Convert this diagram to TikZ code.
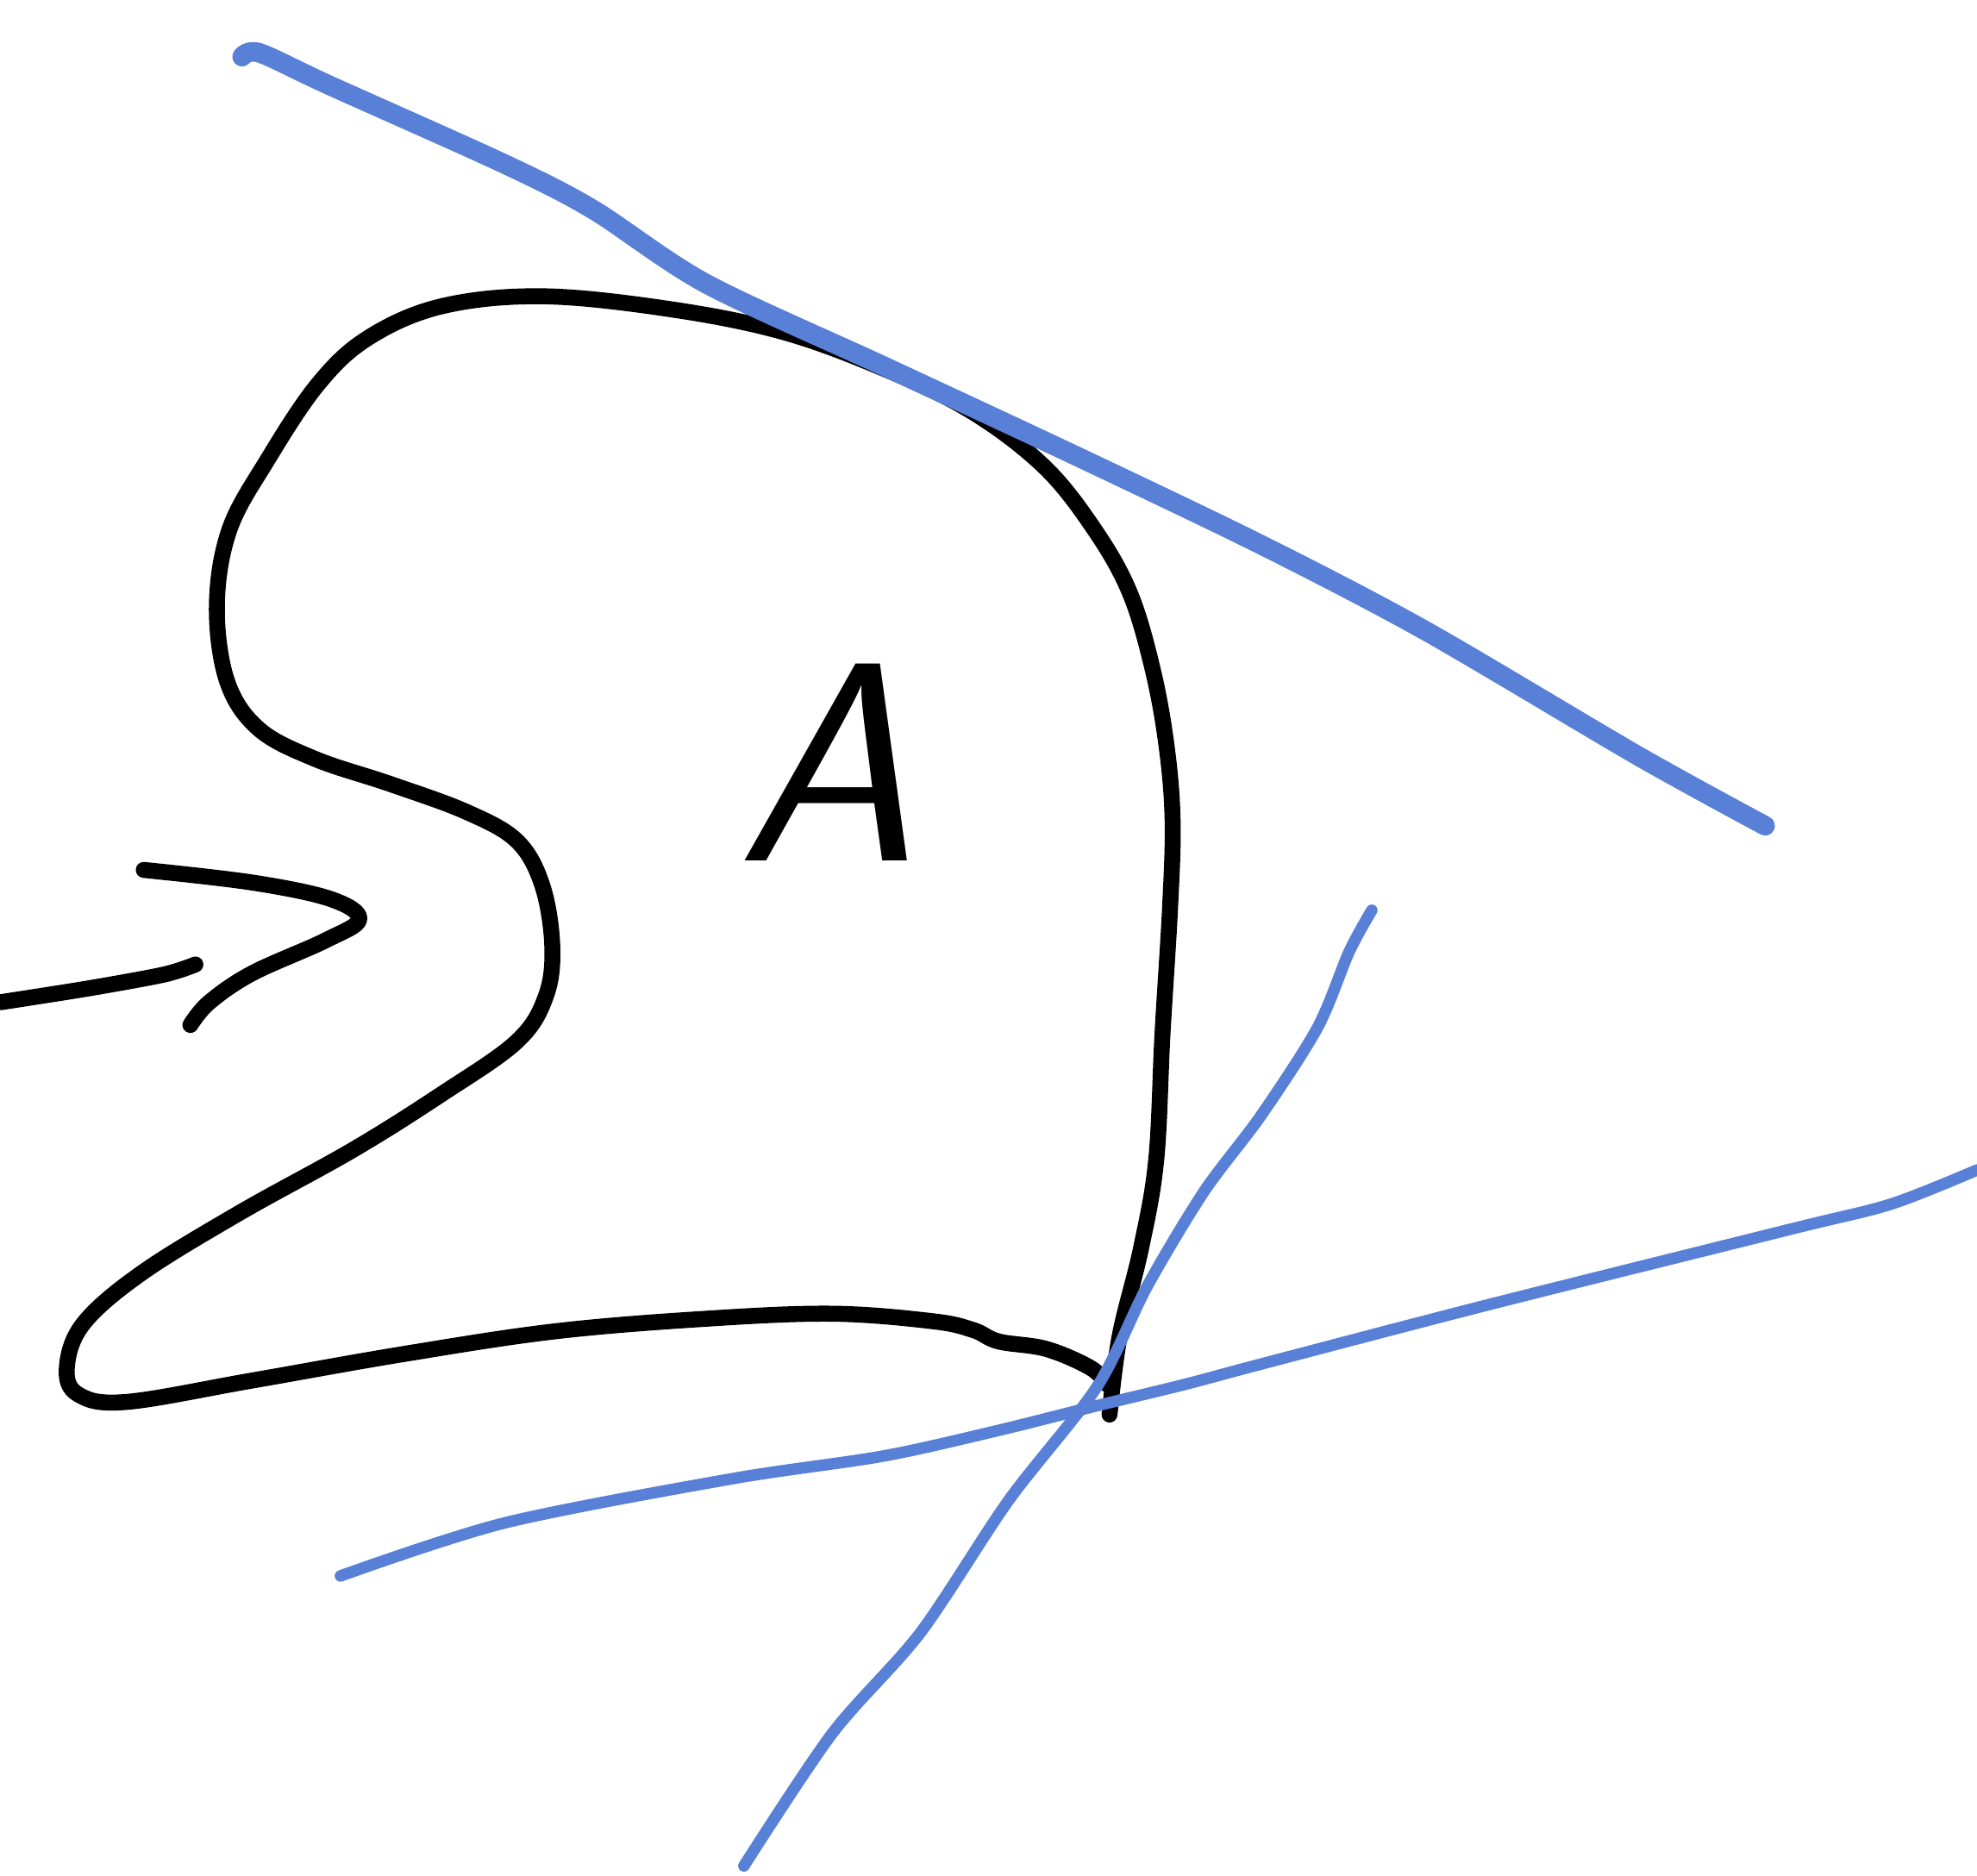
\documentclass[tikz,border=0pt]{standalone}
\usepackage{tikz}

\definecolor{penblue}{RGB}{88,128,214}

\begin{document}
\begin{tikzpicture}[x=0.01cm, y=-0.01cm,
    ink/.style={draw=black, line width=3.6pt, line cap=round, line join=round},
    bigline/.style={draw=penblue, line width=4.4pt, line cap=round, line join=round},
    thinline/.style={draw=penblue, line width=2.6pt, line cap=round, line join=round}]
    \useasboundingbox (0,0) rectangle (1568,1488);

    % the set
    \draw[ink] plot[smooth, tension=0.6] coordinates {
        (880,1122) (888,1060) (905,990) (917,920) (922,820) (928,720) (930,650)
        (925,590) (914,530) (896,470) (868,420) (828,370) (770,326) (700,292)
        (620,263) (530,245) (430,235) (350,243) (292,268) (252,305) (212,365)
        (182,420) (172,480) (180,540) (205,578) (250,602) (310,622) (370,644)
        (410,667) (430,702) (438,750) (433,790) (410,826) (350,868) (280,912)
        (190,962) (112,1010) (66,1050) (53,1085) (62,1106) (100,1112) (200,1095)
        (320,1074) (440,1056) (560,1046) (660,1042) (740,1048) (772,1055)
        (792,1064) (830,1070) (865,1085) (878,1098)};
    \node (setA) at (655,605) {\fontsize{64}{64}\selectfont\sffamily\itshape A};

    % arrow coming in from the left
    \draw[ink] plot[smooth] coordinates {(0,795) (70,784) (130,773) (155,765)};
    \draw[ink] plot[smooth, tension=0.6] coordinates {
        (114,690) (200,700) (262,713) (285,729) (258,746) (200,772) (166,795)
        (151,813)};

    % supporting line on top
    \draw[bigline] plot[smooth, tension=0.5] coordinates {
        (192,45) (206,42) (262,68) (400,130) (470,166) (560,225) (700,290)
        (850,360) (1000,432) (1130,500) (1300,600) (1400,655)};

    % two lines through the corner
    \draw[thinline] plot[smooth, tension=0.5] coordinates {
        (1088,722) (1070,755) (1045,815) (1000,885) (955,945) (910,1020)
        (870,1100) (800,1190) (730,1295) (660,1375) (590,1480)};
    \draw[thinline] plot[smooth, tension=0.5] coordinates {
        (270,1250) (400,1208) (580,1173) (700,1155) (790,1135) (870,1115)
        (940,1098) (1000,1082) (1180,1035) (1420,975) (1500,955) (1568,928)};
\end{tikzpicture}
\end{document}
